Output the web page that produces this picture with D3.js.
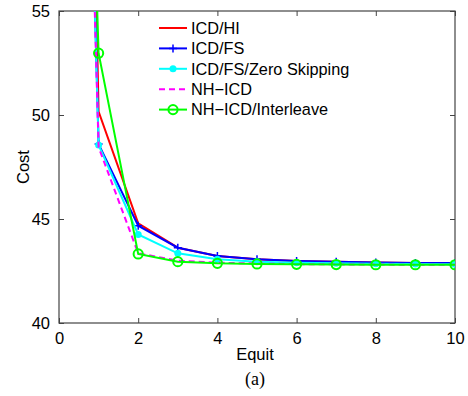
<!DOCTYPE html>
<meta charset="utf-8">
<style>body{margin:0;background:#fff}</style>
<svg width="468" height="396"></svg>
<script src="https://cdn.jsdelivr.net/npm/d3@7/dist/d3.min.js"></script>
<script>
var svg = d3.select("svg");
var margin = {left: 59, right: 13, top: 11, bottom: 73};
var width = 468 - margin.left - margin.right;
var height = 396 - margin.top - margin.bottom;

var equit = [0, 1, 2, 3, 4, 5, 6, 7, 8, 9, 10];
var icdHI   = [140, 50.16, 44.79, 43.62, 43.22, 43.07, 42.98, 42.94, 42.91, 42.89, 42.88];
var icdFS   = [120, 48.6, 44.68, 43.62, 43.22, 43.06, 42.98, 42.94, 42.91, 42.89, 42.88];
var icdZS   = [118, 48.56, 44.26, 43.35, 43.06, 42.95, 42.9, 42.87, 42.85, 42.84, 42.83];
var nhICD   = [116, 48.45, 43.35, 43.0, 42.9, 42.86, 42.83, 42.82, 42.81, 42.8, 42.8];
var nhInter = [113, 52.97, 43.32, 42.95, 42.87, 42.84, 42.82, 42.81, 42.8, 42.8, 42.8];
var xTicks = [0, 2, 4, 6, 8, 10];
var yTicks = [40, 45, 50, 55];

var series = [
  {name: "ICD/HI", values: icdHI, color: "#ff0000", marker: "none", dash: null},
  {name: "ICD/FS", values: icdFS, color: "#0000ff", marker: "plus", dash: null},
  {name: "ICD/FS/Zero Skipping", values: icdZS, color: "#00ffff", marker: "dot", dash: null},
  {name: "NH\u2212ICD", values: nhICD, color: "#ff00ff", marker: "none", dash: "6,4"},
  {name: "NH\u2212ICD/Interleave", values: nhInter, color: "#00ff00", marker: "circle", dash: null}
];

var x = d3.scaleLinear().domain([0, 10]).range([0, width]);
var y = d3.scaleLinear().domain([40, 55]).range([height, 0]);

var g = svg.append("g").attr("transform", "translate(" + margin.left + "," + margin.top + ")");

g.append("clipPath").attr("id", "clip")
  .append("rect").attr("width", width).attr("height", height);

var axisColor = "#444";
var font = "'Liberation Sans', Arial, sans-serif";

// frame ticks (inward)
function styleAxis(sel, labels) {
  sel.select(".domain").remove();
  sel.selectAll("line").attr("stroke", axisColor);
  sel.selectAll("text").attr("font-family", font).attr("font-size", 16.5).attr("fill", "#000");
  if (!labels) sel.selectAll("text").remove();
}
g.append("g").attr("transform", "translate(0," + height + ")")
  .call(d3.axisBottom(x).tickValues(xTicks).tickSize(-5).tickPadding(9))
  .call(styleAxis, true);
g.append("g")
  .call(d3.axisTop(x).tickValues(xTicks).tickSize(-5))
  .call(styleAxis, false);
g.append("g")
  .call(d3.axisLeft(y).tickValues(yTicks).tickSize(-5).tickPadding(9))
  .call(styleAxis, true);
g.append("g").attr("transform", "translate(" + width + ",0)")
  .call(d3.axisRight(y).tickValues(yTicks).tickSize(-5))
  .call(styleAxis, false);

g.append("rect").attr("width", width).attr("height", height)
  .attr("fill", "none").attr("stroke", axisColor).attr("stroke-width", 1.2);

var line = d3.line().x(function(d, i) { return x(equit[i]); }).y(function(d) { return y(d); });

var plot = g.append("g").attr("clip-path", "url(#clip)");

function drawMarker(sel, s, cx, cy) {
  if (s.marker === "plus") {
    sel.append("path").attr("d", "M" + (cx - 4) + "," + cy + "H" + (cx + 4) + "M" + cx + "," + (cy - 4) + "V" + (cy + 4))
      .attr("stroke", s.color).attr("stroke-width", 1.5);
  } else if (s.marker === "dot") {
    sel.append("circle").attr("cx", cx).attr("cy", cy).attr("r", 3.5).attr("fill", s.color);
  } else if (s.marker === "circle") {
    sel.append("circle").attr("cx", cx).attr("cy", cy).attr("r", 4.6)
      .attr("fill", "none").attr("stroke", s.color).attr("stroke-width", 2);
  }
}

series.forEach(function(s) {
  plot.append("path").datum(s.values).attr("d", line)
    .attr("fill", "none").attr("stroke", s.color).attr("stroke-width", 2)
    .attr("stroke-dasharray", s.dash);
  s.values.forEach(function(v, i) {
    if (i > 0) drawMarker(plot, s, x(equit[i]), y(v));
  });
});

// legend
var leg = g.append("g").attr("transform", "translate(" + (159 - margin.left) + "," + (28 - margin.top) + ")");
series.forEach(function(s, i) {
  var row = leg.append("g").attr("transform", "translate(0," + (i * 20.4) + ")");
  row.append("line").attr("x1", 0).attr("x2", 28).attr("stroke", s.color)
    .attr("stroke-width", 2).attr("stroke-dasharray", s.dash);
  drawMarker(row, s, 14, 0);
  row.append("text").attr("x", 32).attr("dy", "0.35em").text(s.name)
    .attr("font-family", font).attr("font-size", 16.3);
});

svg.append("text").attr("transform", "translate(29," + (margin.top + height / 2) + ") rotate(-90)")
  .attr("text-anchor", "middle").attr("font-family", font).attr("font-size", 16.5).text("Cost");
svg.append("text").attr("x", margin.left + width / 2 - 2).attr("y", 360)
  .attr("text-anchor", "middle").attr("font-family", font).attr("font-size", 16.5).text("Equit");
svg.append("text").attr("x", margin.left + width / 2 - 2).attr("y", 385)
  .attr("text-anchor", "middle").attr("font-family", "'Liberation Serif', 'Times New Roman', serif").attr("font-size", 18).text("(a)");
</script>
